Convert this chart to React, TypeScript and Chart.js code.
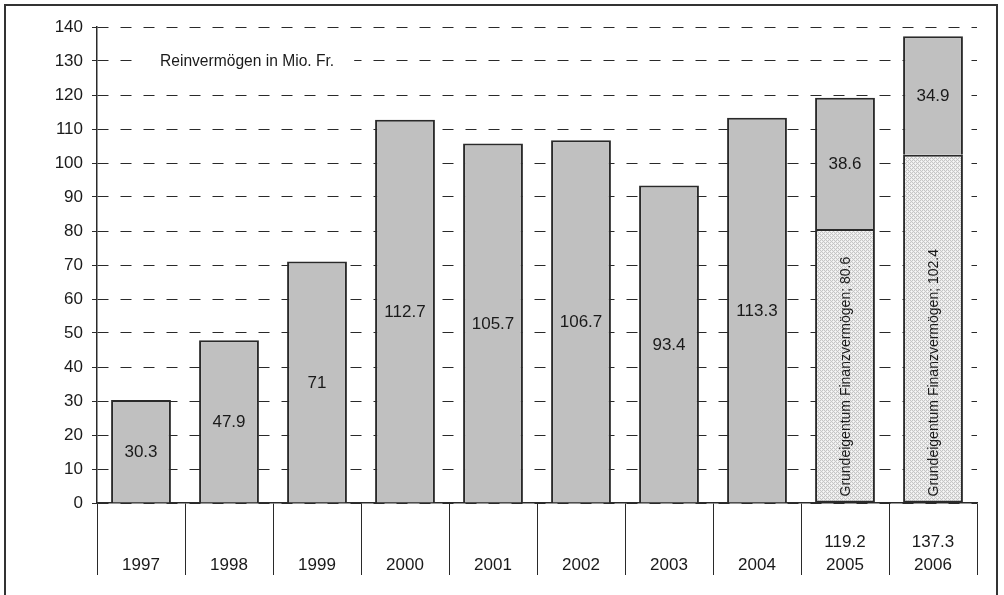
import { useEffect, useRef } from "react";
import { Chart, registerables } from "chart.js";

Chart.register(...registerables);

const years = ["1997", "1998", "1999", "2000", "2001", "2002", "2003", "2004", "2005", "2006"];
const totals = ["", "", "", "", "", "", "", "", "119.2", "137.3"];
const reinvermoegen = [30.3, 47.9, 71, 112.7, 105.7, 106.7, 93.4, 113.3, 38.6, 34.9];
const grundeigentum: (number | null)[] = [null, null, null, null, null, null, null, null, 80.6, 102.4];
const grundLabel = "Grundeigentum Finanzvermögen";
const chartTitle = "Reinvermögen in Mio. Fr.";
const yMin = 0;
const yMax = 140;
const yStep = 10;

const FONT = "'Liberation Sans', Arial, Helvetica, sans-serif";
const TEXT = "#1a1a1a";
const LINE = "#2a2a2a";

function makeHatch(): CanvasPattern | string {
  const c = document.createElement("canvas");
  c.width = 4;
  c.height = 4;
  const g = c.getContext("2d");
  if (!g) return "#dcdcdc";
  g.fillStyle = "#ececec";
  g.fillRect(0, 0, 4, 4);
  g.fillStyle = "#c6c6c6";
  for (let y = 0; y < 4; y++) {
    for (let x = 0; x < 4; x++) {
      if ((x + y) % 2 === 0) g.fillRect(x, y, 1, 1);
    }
  }
  g.fillStyle = "#f8f8f8";
  g.fillRect(1, 1, 1, 1);
  g.fillRect(3, 3, 1, 1);
  const p = g.createPattern(c, "repeat");
  return p || "#dcdcdc";
}

const labelPlugin = {
  id: "barLabels",
  beforeDatasetsDraw(chart: any) {
    const ctx = chart.ctx;
    const ys = chart.scales.y;
    const ca = chart.chartArea;
    ctx.save();
    ctx.font = `15.6px ${FONT}`;
    ctx.textAlign = "left";
    ctx.textBaseline = "middle";
    const ty = ys.getPixelForValue(130);
    const tx = ca.left + 63;
    const w = ctx.measureText(chartTitle).width;
    ctx.fillStyle = "#ffffff";
    ctx.fillRect(tx - 22, ty - 12, w + 42, 24);
    ctx.fillStyle = TEXT;
    ctx.fillText(chartTitle, tx, ty + 1);
    ctx.restore();
  },
  afterDatasetsDraw(chart: any) {
    const ctx = chart.ctx;
    ctx.save();
    ctx.fillStyle = TEXT;
    ctx.textBaseline = "middle";
    const m1 = chart.getDatasetMeta(1);
    ctx.font = `17px ${FONT}`;
    ctx.textAlign = "center";
    m1.data.forEach((el: any, i: number) => {
      const v = reinvermoegen[i];
      if (v == null) return;
      const { x, y, base } = el.getProps(["x", "y", "base"], true);
      ctx.fillText(String(v), x, (y + base) / 2 + 1);
    });
    const m0 = chart.getDatasetMeta(0);
    ctx.font = `14px ${FONT}`;
    ctx.textAlign = "left";
    m0.data.forEach((el: any, i: number) => {
      const v = grundeigentum[i];
      if (v == null) return;
      const { x, base } = el.getProps(["x", "base"], true);
      ctx.save();
      ctx.translate(x + 1, base - 6);
      ctx.rotate(-Math.PI / 2);
      ctx.fillText(`${grundLabel}; ${v}`, 0, 0);
      ctx.restore();
    });
    ctx.restore();
  },
};

export default function App() {
  const ref = useRef<HTMLCanvasElement | null>(null);

  useEffect(() => {
    const canvas = ref.current;
    if (!canvas) return;
    const hatch = makeHatch();
    const chart = new Chart(canvas, {
      type: "bar",
      data: {
        labels: years.map((y, i) => [totals[i], y]),
        datasets: [
          {
            label: grundLabel,
            data: grundeigentum,
            backgroundColor: hatch as any,
            borderColor: LINE,
            borderWidth: 2,
            borderSkipped: false,
            barPercentage: 0.68,
            categoryPercentage: 1,
          },
          {
            label: chartTitle,
            data: reinvermoegen,
            backgroundColor: "#c0c0c0",
            borderColor: LINE,
            borderWidth: 2,
            borderSkipped: "bottom",
            barPercentage: 0.68,
            categoryPercentage: 1,
          },
        ],
      },
      options: {
        animation: false,
        responsive: false,
        devicePixelRatio: 1,
        layout: { padding: { left: 0, top: 27, right: 27, bottom: 0 } },
        plugins: {
          legend: { display: false },
          tooltip: { enabled: false },
          title: { display: false },
        },
        scales: {
          x: {
            stacked: true,
            offset: true,
            grid: {
              display: true,
              offset: true,
              drawOnChartArea: false,
              drawTicks: true,
              tickLength: 72,
              color: LINE,
              lineWidth: 1,
              tickBorderDash: [],
            },
            border: { display: true, color: LINE, width: 1.5 },
            ticks: {
              autoSkip: false,
              maxRotation: 0,
              minRotation: 0,
              padding: -44.5,
              color: TEXT,
              font: { family: FONT, size: 17, lineHeight: 1.353 },
            },
            afterFit: (scale: any) => {
              scale.height = 92;
            },
          },
          y: {
            stacked: true,
            min: yMin,
            max: yMax,
            ticks: {
              stepSize: yStep,
              padding: 9,
              color: TEXT,
              font: { family: FONT, size: 17 },
            },
            grid: {
              color: LINE,
              lineWidth: 1,
              drawTicks: true,
              tickLength: 5,
              tickBorderDash: [],
            },
            border: { display: true, color: LINE, width: 1.5, dash: [11, 12] },
            afterFit: (scale: any) => {
              scale.width = 97;
            },
          },
        },
      },
      plugins: [labelPlugin],
    });
    return () => chart.destroy();
  }, []);

  return (
    <div
      style={{
        position: "fixed",
        left: 0,
        top: 0,
        width: 1004,
        height: 595,
        overflow: "hidden",
        background: "#ffffff",
      }}
    >
      <div
        style={{
          position: "absolute",
          left: 4,
          top: 4,
          width: 990,
          height: 620,
          border: "2px solid #333333",
        }}
      />
      <canvas
        ref={ref}
        width={1004}
        height={595}
        style={{ position: "absolute", left: 0, top: 0, width: 1004, height: 595 }}
      />
    </div>
  );
}
